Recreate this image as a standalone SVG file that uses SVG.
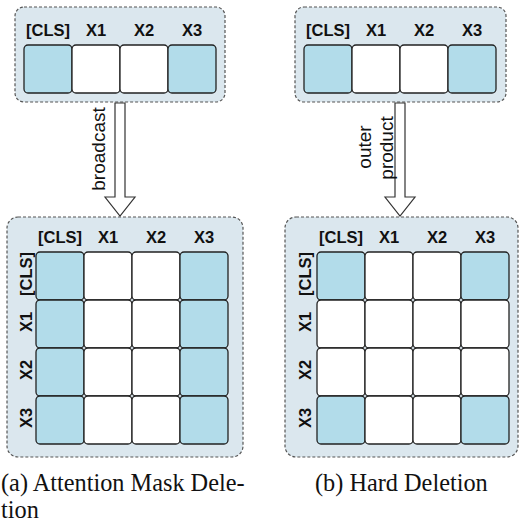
<svg xmlns="http://www.w3.org/2000/svg" width="519" height="522" viewBox="0 0 519 522">
<style>
.box{fill:#dbe7ee;stroke:#555;stroke-width:1.2;stroke-dasharray:3 2}
.cb{fill:#b2dcea;stroke:#222;stroke-width:1.3}
.cw{fill:#fff;stroke:#222;stroke-width:1.3}
.lb{font-family:"Liberation Sans",Arial,sans-serif;font-weight:bold;font-size:16.5px;fill:#111;text-anchor:middle}
.at{font-family:"Liberation Sans",Arial,sans-serif;font-size:19px;fill:#111;text-anchor:middle}
.cap{font-family:"Liberation Serif","Times New Roman",serif;font-size:24.3px;fill:#111}
.arr{fill:#fff;stroke:#333;stroke-width:1.2}
</style>
<rect width="519" height="522" fill="#fff"/>
<g id="left-input">
<rect class="box" x="15" y="7" width="210" height="95" rx="9"/>
<text class="lb" x="48" y="36">[CLS]</text><text class="lb" x="96" y="36">X1</text><text class="lb" x="144" y="36">X2</text><text class="lb" x="192" y="36">X3</text>
<rect class="cb" x="24" y="45" width="48" height="48" rx="4"/><rect class="cw" x="72" y="45" width="48" height="48" rx="4"/><rect class="cw" x="120" y="45" width="48" height="48" rx="4"/><rect class="cb" x="168" y="45" width="48" height="48" rx="4"/>
</g>
<g id="right-input">
<rect class="box" x="295" y="7" width="211" height="95" rx="9"/>
<text class="lb" x="328" y="36">[CLS]</text><text class="lb" x="376" y="36">X1</text><text class="lb" x="424" y="36">X2</text><text class="lb" x="472" y="36">X3</text>
<rect class="cb" x="304" y="45" width="48" height="48" rx="4"/><rect class="cw" x="352" y="45" width="48" height="48" rx="4"/><rect class="cw" x="400" y="45" width="48" height="48" rx="4"/><rect class="cb" x="448" y="45" width="48" height="48" rx="4"/>
</g>
<g id="left-matrix">
<rect class="box" x="7" y="217" width="236" height="240" rx="11"/>
<text class="lb" x="60" y="243">[CLS]</text><text class="lb" x="108" y="243">X1</text><text class="lb" x="156" y="243">X2</text><text class="lb" x="204" y="243">X3</text>
<text class="lb" transform="translate(32,274) rotate(-90)">[CLS]</text><text class="lb" transform="translate(32,322) rotate(-90)">X1</text><text class="lb" transform="translate(32,370) rotate(-90)">X2</text><text class="lb" transform="translate(32,418) rotate(-90)">X3</text>
<rect class="cb" x="36" y="252" width="48" height="48" rx="4"/><rect class="cw" x="84" y="252" width="48" height="48" rx="4"/><rect class="cw" x="132" y="252" width="48" height="48" rx="4"/><rect class="cb" x="180" y="252" width="48" height="48" rx="4"/>
<rect class="cb" x="36" y="300" width="48" height="48" rx="4"/><rect class="cw" x="84" y="300" width="48" height="48" rx="4"/><rect class="cw" x="132" y="300" width="48" height="48" rx="4"/><rect class="cb" x="180" y="300" width="48" height="48" rx="4"/>
<rect class="cb" x="36" y="348" width="48" height="48" rx="4"/><rect class="cw" x="84" y="348" width="48" height="48" rx="4"/><rect class="cw" x="132" y="348" width="48" height="48" rx="4"/><rect class="cb" x="180" y="348" width="48" height="48" rx="4"/>
<rect class="cb" x="36" y="396" width="48" height="48" rx="4"/><rect class="cw" x="84" y="396" width="48" height="48" rx="4"/><rect class="cw" x="132" y="396" width="48" height="48" rx="4"/><rect class="cb" x="180" y="396" width="48" height="48" rx="4"/>
</g>
<g id="right-matrix">
<rect class="box" x="285" y="217" width="233" height="240" rx="11"/>
<text class="lb" x="341" y="243">[CLS]</text><text class="lb" x="389" y="243">X1</text><text class="lb" x="437" y="243">X2</text><text class="lb" x="485" y="243">X3</text>
<text class="lb" transform="translate(311,274) rotate(-90)">[CLS]</text><text class="lb" transform="translate(311,322) rotate(-90)">X1</text><text class="lb" transform="translate(311,370) rotate(-90)">X2</text><text class="lb" transform="translate(311,418) rotate(-90)">X3</text>
<rect class="cb" x="317" y="252" width="48" height="48" rx="4"/><rect class="cw" x="365" y="252" width="48" height="48" rx="4"/><rect class="cw" x="413" y="252" width="48" height="48" rx="4"/><rect class="cb" x="461" y="252" width="48" height="48" rx="4"/>
<rect class="cw" x="317" y="300" width="48" height="48" rx="4"/><rect class="cw" x="365" y="300" width="48" height="48" rx="4"/><rect class="cw" x="413" y="300" width="48" height="48" rx="4"/><rect class="cw" x="461" y="300" width="48" height="48" rx="4"/>
<rect class="cw" x="317" y="348" width="48" height="48" rx="4"/><rect class="cw" x="365" y="348" width="48" height="48" rx="4"/><rect class="cw" x="413" y="348" width="48" height="48" rx="4"/><rect class="cw" x="461" y="348" width="48" height="48" rx="4"/>
<rect class="cb" x="317" y="396" width="48" height="48" rx="4"/><rect class="cw" x="365" y="396" width="48" height="48" rx="4"/><rect class="cw" x="413" y="396" width="48" height="48" rx="4"/><rect class="cb" x="461" y="396" width="48" height="48" rx="4"/>
</g>
<g id="connectors">
<polygon class="arr" points="115,103 125,103 125,197 135,197 120,216 105,197 115,197"/>
<text class="at" transform="translate(105,149) rotate(-90)">broadcast</text>
<polygon class="arr" points="395,103 405,103 405,197 415,197 400,216 385,197 395,197"/>
<text class="at" transform="translate(370.5,147) rotate(-90)">outer</text>
<text class="at" transform="translate(392.5,148) rotate(-90)">product</text>
</g>
<g id="captions">
<text class="cap" x="1" y="491">(a) Attention Mask Dele-</text>
<text class="cap" x="1" y="518">tion</text>
<text class="cap" x="315" y="491">(b) Hard Deletion</text>
</g>
</svg>
